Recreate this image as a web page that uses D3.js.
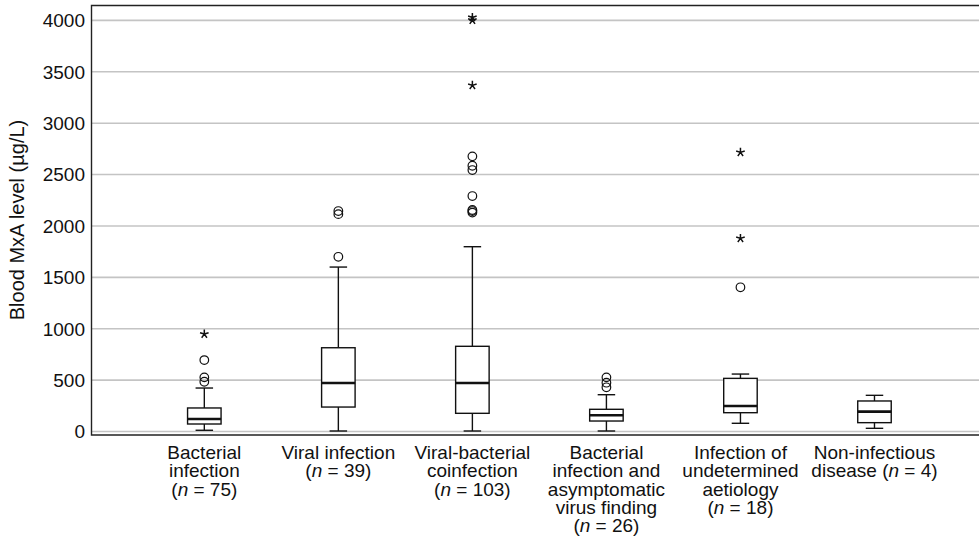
<!DOCTYPE html>
<html>
<head>
<meta charset="utf-8">
<script src="https://cdn.jsdelivr.net/npm/d3@7"></script>
<style>
  body { margin: 0; background: #fff; }
  text { font-family: "Liberation Sans", Arial, sans-serif; fill: #111; }
</style>
</head>
<body>
<div id="chart"></div>
<script>
// groups and their labels (one array entry per line)
const categories = ["bact", "viral", "coinf", "bactAsym", "undet", "nonInf"];
const labelLines = [
  ["Bacterial", "infection", "(n = 75)"],
  ["Viral infection", "(n = 39)"],
  ["Viral-bacterial", "coinfection", "(n = 103)"],
  ["Bacterial", "infection and", "asymptomatic", "virus finding", "(n = 26)"],
  ["Infection of", "undetermined", "aetiology", "(n = 18)"],
  ["Non-infectious", "disease (n = 4)"]
];

// box statistics (µg/L)
const whiskerLow  = [12, 5, 5, 5, 80, 31];
const q1          = [73, 238, 177, 102, 183, 86];
const median      = [122, 472, 472, 158, 248, 193];
const q3          = [229, 815, 829, 216, 517, 297];
const whiskerHigh = [423, 1600, 1798, 358, 559, 352];

// outliers (circles) and extreme values (stars)
const outliers = [
  [484, 527, 695],
  [1700, 2115, 2145],
  [2130, 2145, 2155, 2291, 2544, 2586, 2677],
  [430, 475, 527],
  [1403],
  []
];
const extremes = [
  [948],
  [],
  [3368, 4002, 4029],
  [],
  [1879, 2716],
  []
];

const yTicks = [0, 500, 1000, 1500, 2000, 2500, 3000, 3500, 4000];

const width = 979, height = 540;
const plotLeft = 91.5, plotTop = 5.5, plotBottom = 435;

const svg = d3.select("#chart").append("svg")
  .attr("width", width)
  .attr("height", height);

const x = d3.scaleBand()
  .domain(categories)
  .range([137.3, 941.5]);

const y = d3.scaleLinear()
  .domain([-34, 4145])
  .range([plotBottom, plotTop]);

const boxW = 33.5, capW = 17.5;

// gridlines
svg.append("g")
  .selectAll("line")
  .data(yTicks)
  .join("line")
  .attr("x1", plotLeft)
  .attr("x2", width)
  .attr("y1", d => y(d))
  .attr("y2", d => y(d))
  .attr("stroke", "#c4c4c4")
  .attr("stroke-width", 1.6);

// y axis labels
svg.append("g")
  .selectAll("text")
  .data(yTicks)
  .join("text")
  .attr("x", 85)
  .attr("y", d => y(d))
  .attr("dy", "0.36em")
  .attr("text-anchor", "end")
  .style("font-size", "19px")
  .text(d => d);

// frame: left axis, bottom axis, top border
svg.append("path")
  .attr("d", `M${width},${plotTop}H${plotLeft}V${plotBottom}H${width}`)
  .attr("fill", "none")
  .attr("stroke", "#222")
  .attr("stroke-width", 1.4);

svg.append("text")
  .attr("transform", `translate(24,220) rotate(-90)`)
  .attr("text-anchor", "middle")
  .style("font-size", "20px")
  .text("Blood MxA level (µg/L)");

// boxes
const boxes = svg.append("g")
  .selectAll("g")
  .data(categories)
  .join("g")
  .attr("transform", d => `translate(${x(d) + x.bandwidth() / 2},0)`);

boxes.append("line")
  .attr("y1", (d, i) => y(whiskerLow[i]))
  .attr("y2", (d, i) => y(q1[i]))
  .attr("stroke", "#111").attr("stroke-width", 1.4);

boxes.append("line")
  .attr("y1", (d, i) => y(q3[i]))
  .attr("y2", (d, i) => y(whiskerHigh[i]))
  .attr("stroke", "#111").attr("stroke-width", 1.4);

boxes.selectAll(".cap")
  .data((d, i) => [whiskerLow[i], whiskerHigh[i]])
  .join("line")
  .attr("class", "cap")
  .attr("x1", -capW / 2).attr("x2", capW / 2)
  .attr("y1", v => y(v)).attr("y2", v => y(v))
  .attr("stroke", "#111").attr("stroke-width", 1.4);

boxes.append("rect")
  .attr("x", -boxW / 2)
  .attr("width", boxW)
  .attr("y", (d, i) => y(q3[i]))
  .attr("height", (d, i) => y(q1[i]) - y(q3[i]))
  .attr("fill", "#fff")
  .attr("stroke", "#111")
  .attr("stroke-width", 1.4);

boxes.append("line")
  .attr("x1", -boxW / 2).attr("x2", boxW / 2)
  .attr("y1", (d, i) => y(median[i]))
  .attr("y2", (d, i) => y(median[i]))
  .attr("stroke", "#111").attr("stroke-width", 2.6);

boxes.selectAll("circle")
  .data((d, i) => outliers[i])
  .join("circle")
  .attr("cy", v => y(v))
  .attr("r", 4.3)
  .attr("fill", "none")
  .attr("stroke", "#111")
  .attr("stroke-width", 1.2);

// five-armed asterisk for extreme values
const asterisk = {
  draw(ctx, size) {
    const r = Math.sqrt(size) / 2;
    for (let k = 0; k < 5; k++) {
      const a = -Math.PI / 2 + k * 2 * Math.PI / 5;
      ctx.moveTo(0, 0);
      ctx.lineTo(r * Math.cos(a), r * Math.sin(a));
    }
  }
};

boxes.selectAll(".star")
  .data((d, i) => extremes[i])
  .join("path")
  .attr("class", "star")
  .attr("transform", v => `translate(0,${y(v)})`)
  .attr("d", d3.symbol().type(asterisk).size(81))
  .attr("stroke", "#111")
  .attr("stroke-width", 1.5)
  .attr("fill", "none");

// category labels
const labels = svg.append("g")
  .selectAll("text")
  .data(categories)
  .join("text")
  .attr("text-anchor", "middle")
  .attr("transform", d => `translate(${x(d) + x.bandwidth() / 2},459)`)
  .style("font-size", "19px");

labels.each(function(d, i) {
  const t = d3.select(this);
  labelLines[i].forEach((line, j) => {
    const ts = t.append("tspan").attr("x", 0).attr("y", j * 18.3);
    const m = line.match(/^(.*\()n( = .*)$/);
    if (m) {
      ts.append("tspan").text(m[1]);
      ts.append("tspan").style("font-style", "italic").text("n");
      ts.append("tspan").text(m[2]);
    } else {
      ts.text(line);
    }
  });
});
</script>
</body>
</html>
